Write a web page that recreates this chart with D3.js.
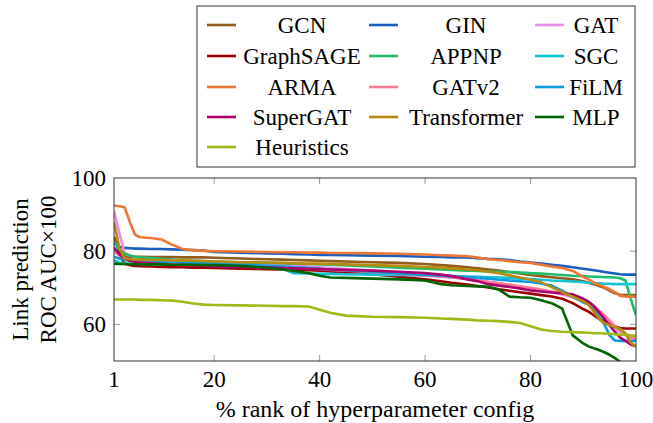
<!DOCTYPE html>
<html><head><meta charset="utf-8">
<script src="https://cdn.jsdelivr.net/npm/d3@7"></script>
<style>
html,body{margin:0;padding:0;background:#fff;}
svg{display:block;font-family:"Liberation Serif","DejaVu Serif",serif;}
</style></head>
<body><svg id="chart" width="653" height="423"></svg>
<script>
const ranks = [1,2,3,4,5,6,8,10,12,14,16,18,20,25,30,33,35,38,40,42,45,50,55,60,63,65,68,70,72,74,76,78,80,82,84,86,88,90,91,92,93,94,95,96,97,98,99,100];

const GCN = [84,80,78.6,78.5,78.5,78.5,78.4,78.4,78.4,78.3,78.3,78.3,78.2,78.0,77.8,77.7,77.6,77.5,77.4,77.3,77.2,77.0,76.8,76.5,76.2,76.0,75.6,75.3,75.0,74.7,74.3,73.9,73.5,73.2,72.9,72.6,72.3,71.8,71.4,71.0,70.5,70.0,69.2,68.5,68.1,68.0,68.0,68.0];
const GIN = [82.2,81.2,80.9,80.8,80.7,80.7,80.6,80.6,80.5,80.4,80.3,80.2,79.8,79.6,79.4,79.3,79.2,79.1,79.0,79.0,78.9,78.8,78.7,78.5,78.4,78.3,78.3,78.1,77.9,77.8,77.6,77.2,76.9,76.6,76.3,76.0,75.6,75.2,75.0,74.8,74.6,74.3,74.1,73.9,73.7,73.6,73.6,73.6];
const GAT = [91,85,79.5,78.8,78.4,78.2,78.0,77.8,77.6,77.4,77.3,77.2,77.0,76.7,76.4,76.2,76.0,75.8,75.6,75.4,75.1,74.7,74.2,73.6,73.2,72.9,72.5,72.1,71.6,71.2,70.7,70.3,69.9,69.4,68.8,68.2,67.4,66.2,65.5,64.5,63.3,62.0,60.5,59.2,58.0,57.2,56.5,56.0];
const GraphSAGE = [80,79.3,76.6,76.2,76.0,75.9,75.8,75.7,75.6,75.6,75.5,75.5,75.4,75.2,75.1,75.0,74.9,74.8,74.7,74.5,74.2,73.7,73.0,72.3,71.8,71.4,70.9,70.5,70.1,69.6,69.2,68.8,68.4,68.0,67.6,67.0,65.8,64.2,63.5,62.5,61.5,60.8,60.0,59.4,59.0,58.9,58.9,58.9];
const APPNP = [82.5,80.5,79.3,78.8,78.5,78.3,78.1,77.9,77.7,77.5,77.4,77.3,77.2,77.0,76.8,76.7,76.6,76.5,76.4,76.3,76.1,75.8,75.5,75.2,75.0,74.9,74.7,74.6,74.5,74.4,74.3,74.2,74.0,73.9,73.7,73.5,73.3,73.2,73.1,73.0,73.0,72.9,72.9,72.8,72.6,72.0,67.0,62.5];
const SGC = [77.5,76.9,76.7,76.6,76.6,76.5,76.5,76.4,76.4,76.3,76.3,76.2,76.1,75.9,75.6,75.2,74.0,73.9,73.8,73.8,73.7,73.6,73.5,73.4,73.3,73.2,73.1,73.0,72.9,72.8,72.7,72.5,72.4,72.2,72.0,71.9,71.7,71.5,71.4,71.3,71.2,71.1,71.1,71.0,71.0,71.0,71.0,71.0];
const ARMA = [92.5,92.3,92.0,88.0,84.5,83.8,83.6,83.2,81.8,80.6,80.3,80.1,80.0,79.9,79.8,79.7,79.7,79.6,79.6,79.5,79.5,79.4,79.3,79.1,78.9,78.8,78.6,78.3,77.8,77.6,77.3,77.0,76.8,76.3,75.8,75.4,74.6,73.0,72.3,71.5,70.8,70.2,69.6,68.8,67.8,67.6,67.6,67.6];
const GATv2 = [80,78.8,78.0,77.6,77.3,77.2,77.0,76.9,76.8,76.7,76.6,76.5,76.4,76.1,75.8,75.6,75.5,75.3,75.1,74.9,74.7,74.3,73.8,73.3,73.0,72.8,72.4,72.0,71.6,71.2,70.8,70.4,70.0,69.5,69.0,68.4,67.8,66.8,66.0,65.0,63.8,62.5,61.0,59.6,58.4,57.4,56.5,55.8];
const FiLM = [78.5,78.0,77.6,77.5,77.4,77.3,77.2,77.1,77.0,76.9,76.8,76.7,76.6,76.3,76.0,75.8,75.6,75.4,75.2,75.0,74.8,74.4,73.9,73.5,73.3,73.1,72.9,72.7,72.5,72.2,72.0,71.8,71.6,71.2,70.6,69.2,67.6,66.0,65.5,64.0,62.0,60.0,57.0,55.6,55.5,55.5,55.5,55.5];
const SuperGAT = [81,79.2,78.0,77.4,77.1,76.9,76.7,76.5,76.3,76.2,76.1,76.0,75.8,75.6,75.5,75.4,75.3,75.2,75.1,75.0,74.9,74.7,74.4,74.0,73.6,73.2,72.3,71.8,71.0,70.6,70.2,69.8,69.3,69.0,68.7,68.5,68.2,67.0,66.2,65.0,63.3,61.5,59.7,58.0,56.4,55.5,54.5,54.0];
const Transformer = [88,81,77.9,77.8,77.7,77.7,77.6,77.6,77.5,77.5,77.4,77.3,77.2,77.0,76.9,76.8,76.7,76.6,76.6,76.5,76.4,76.2,76.0,75.7,75.5,75.3,75.0,74.8,74.4,74.0,73.4,72.8,72.2,71.5,70.2,68.8,67.6,66.3,65.4,63.5,61.5,60.3,59.8,59.2,58.8,57.5,55.0,54.0];
const MLP = [76.6,76.5,76.5,76.5,76.4,76.4,76.4,76.4,76.3,76.3,76.3,76.2,76.2,76.0,75.5,75.0,74.6,74.0,73.3,72.8,72.7,72.5,72.3,72.0,71.0,70.7,70.5,70.4,70.3,69.5,67.6,67.4,67.3,66.6,65.8,64.3,57.0,54.8,54.0,53.5,53.0,52.4,51.7,50.8,49.8,48.8,47.8,47.0];
const Heuristics = [66.8,66.8,66.8,66.8,66.8,66.7,66.7,66.6,66.5,66.2,65.7,65.4,65.3,65.2,65.1,65.0,65.0,64.9,64.0,63.2,62.4,62.1,62.0,61.8,61.6,61.5,61.3,61.1,61.0,60.9,60.7,60.4,59.5,58.6,58.2,58.0,57.9,57.8,57.7,57.6,57.6,57.5,57.4,57.3,57.2,57.1,57.0,56.8];

const seriesNames = ["GCN","GIN","GAT","GraphSAGE","APPNP","SGC","ARMA","GATv2","FiLM","SuperGAT","Transformer","MLP","Heuristics"];
const seriesValues = [GCN,GIN,GAT,GraphSAGE,APPNP,SGC,ARMA,GATv2,FiLM,SuperGAT,Transformer,MLP,Heuristics];
const seriesColors = ["#935c1b","#1a5fbf","#ea8cea","#990000","#1ebd6b","#12c3d6","#ee7733","#ff7799","#0a9be0","#ab006c","#b78a0d","#006400","#a2b818"];
const xTicks = [1,20,40,60,80,100];
const yTicks = [60,80,100];
const xLabel = "% rank of hyperparameter config";
const yLabel = ["Link prediction","ROC AUC×100"];

const svg = d3.select("#chart");
const L = 114, R = 636, T = 178, B = 361;
const x = d3.scaleLinear().domain([1,100]).range([L,R]);
const y = d3.scaleLinear().domain([50,100]).range([B,T]);
const FS = 23;

svg.append("defs").append("clipPath").attr("id","clip")
  .append("rect").attr("x",L).attr("y",T).attr("width",R-L).attr("height",B-T);

// ticks (inside, both sides)
const tickG = svg.append("g").attr("stroke","#999").attr("stroke-width",1);
xTicks.filter(t=>t>1 && t<100).forEach(t=>{
  tickG.append("line").attr("x1",x(t)).attr("x2",x(t)).attr("y1",B).attr("y2",B-6);
  tickG.append("line").attr("x1",x(t)).attr("x2",x(t)).attr("y1",T).attr("y2",T+6);
});
yTicks.filter(t=>t<100).forEach(t=>{
  tickG.append("line").attr("x1",L).attr("x2",L+6).attr("y1",y(t)).attr("y2",y(t));
  tickG.append("line").attr("x1",R).attr("x2",R-6).attr("y1",y(t)).attr("y2",y(t));
});

// lines
const line = d3.line().x((d,i)=>x(ranks[i])).y(d=>y(d));
const lg = svg.append("g").attr("clip-path","url(#clip)");
seriesValues.forEach((vals,k)=>{
  lg.append("path").datum(vals).attr("d",line).attr("fill","none")
    .attr("stroke",seriesColors[k]).attr("stroke-width",2.6)
    .attr("stroke-linejoin","round");
});

// frame
svg.append("rect").attr("x",L).attr("y",T).attr("width",R-L).attr("height",B-T)
  .attr("fill","none").attr("stroke","#333").attr("stroke-width",1);

// tick labels
svg.append("g").selectAll("text").data(xTicks).join("text")
  .attr("x",d=>x(d)).attr("y",B+26).attr("text-anchor","middle")
  .attr("font-size",FS).text(d=>d);
svg.append("g").selectAll("text").data(yTicks).join("text")
  .attr("x",L-8).attr("y",d=>y(d)+8).attr("text-anchor","end")
  .attr("font-size",FS).text(d=>d);

// axis labels
svg.append("text").attr("x",(L+R)/2).attr("y",417).attr("text-anchor","middle")
  .attr("font-size",24).text(xLabel);
yLabel.forEach((t,i)=>{
  svg.append("text").attr("transform",`translate(${28+i*28},${(T+B)/2}) rotate(-90)`)
    .attr("text-anchor","middle").attr("font-size",FS).text(t);
});

// legend
svg.append("rect").attr("x",197).attr("y",6).attr("width",438).attr("height",161)
  .attr("fill","#fff").attr("stroke","#333").attr("stroke-width",1);
const colLineX = [207,369,535];
const colTextX = [302,466,596];
const rowY = [25,56,87,117,147];
seriesNames.forEach((n,k)=>{
  const c = k%3, r = Math.floor(k/3);
  svg.append("line").attr("x1",colLineX[c]).attr("x2",colLineX[c]+29)
    .attr("y1",rowY[r]).attr("y2",rowY[r]).attr("stroke",seriesColors[k]).attr("stroke-width",2.6);
  svg.append("text").attr("x",colTextX[c]).attr("y",rowY[r]+8).attr("text-anchor","middle")
    .attr("font-size",FS).text(n);
});
</script></body></html>
